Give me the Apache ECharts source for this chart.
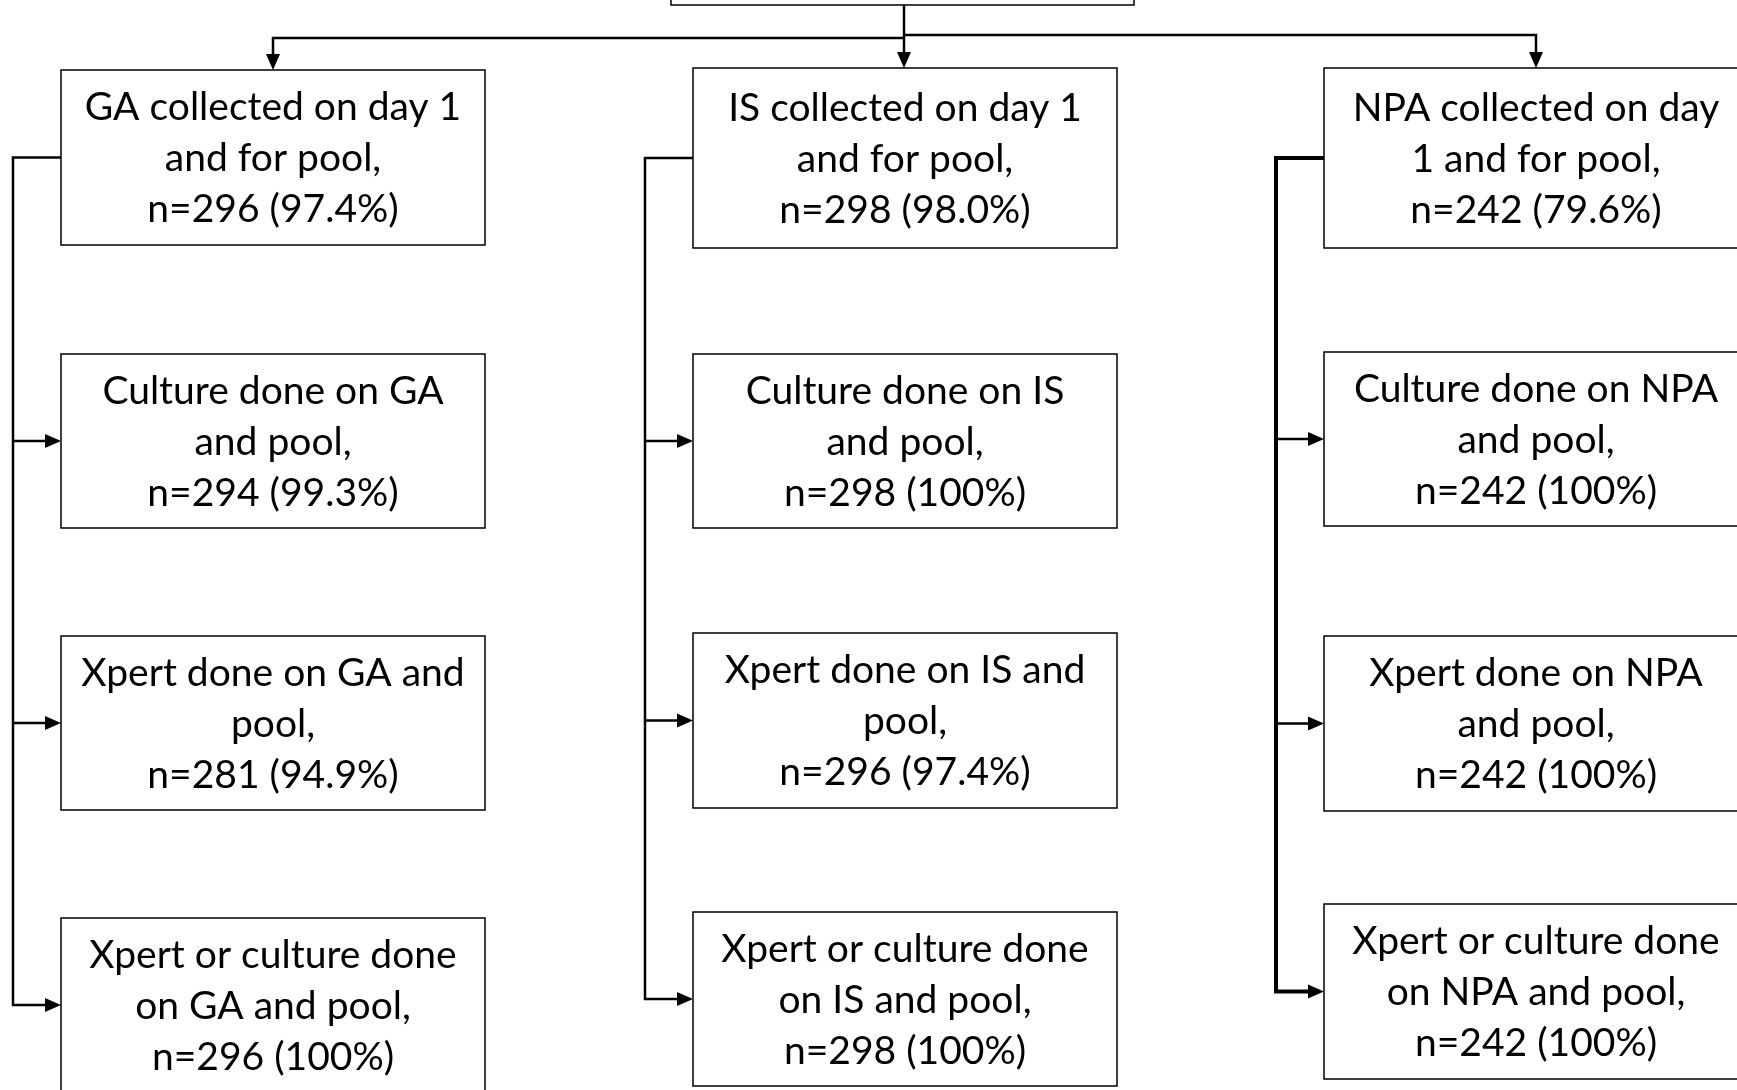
<!DOCTYPE html>
<html><head><meta charset="utf-8">
<script src="https://cdn.jsdelivr.net/npm/echarts@6/dist/echarts.min.js"></script>
<style>html,body{margin:0;padding:0;background:#fff}#c{width:1737px;height:1090px}</style>
</head><body><div id="c"></div>
<script>
// ---- data ----
const specimens = ['GA', 'IS', 'NPA'];
const boxTitles = [
  [['GA collected on day 1', 'and for pool,'], ['Culture done on GA', 'and pool,'], ['Xpert done on GA and', 'pool,'], ['Xpert or culture done', 'on GA and pool,']],
  [['IS collected on day 1', 'and for pool,'], ['Culture done on IS', 'and pool,'], ['Xpert done on IS and', 'pool,'], ['Xpert or culture done', 'on IS and pool,']],
  [['NPA collected on day', '1 and for pool,'], ['Culture done on NPA', 'and pool,'], ['Xpert done on NPA', 'and pool,'], ['Xpert or culture done', 'on NPA and pool,']]
];
const nValues = [
  [296, 294, 281, 296],
  [298, 298, 296, 298],
  [242, 242, 242, 242]
];
const pctLabels = [
  ['97.4%', '99.3%', '94.9%', '100%'],
  ['98.0%', '100%', '97.4%', '100%'],
  ['79.6%', '100%', '100%', '100%']
];

// ---- layout (positions / sizes) ----
const colCenter = [273, 905, 1536];
const boxW = 424;
const rowTop = [[70, 354, 636, 918], [68, 354, 633, 912], [68, 352, 636, 904]];
const rowH = [[175, 174, 174, 174], [180, 174, 175, 174], [180, 174, 175, 175]];
const trunkOffset = 48;
const topBox = { x0: 671, x1: 1134, y0: -120, y1: 5 };
const stemX = 904;
const barY = [38, 35];
const FONT = 'Lato';

const boxData = [];
specimens.forEach((s, c) => {
  for (let r = 0; r < 4; r++) boxData.push([c, r]);
});

function boxRect(c, r) {
  const x0 = colCenter[c] - boxW / 2;
  return { x0: x0, x1: x0 + boxW, y0: rowTop[c][r], y1: rowTop[c][r] + rowH[c][r] };
}

// connectors: list of {pts, arrow, width}
const connectors = [];
connectors.push({ pts: [[stemX, topBox.y1], [stemX, rowTop[1][0]]], arrow: true });
connectors.push({ pts: [[stemX, barY[0]], [colCenter[0], barY[0]], [colCenter[0], rowTop[0][0]]], arrow: true });
connectors.push({ pts: [[stemX, barY[1]], [colCenter[2], barY[1]], [colCenter[2], rowTop[2][0]]], arrow: true });
specimens.forEach((s, c) => {
  const b0 = boxRect(c, 0);
  const tx = b0.x0 - trunkOffset;
  const mid = r => { const b = boxRect(c, r); return (b.y0 + b.y1) / 2; };
  const w = c === 2 ? 4 : 2.5;
  connectors.push({ pts: [[b0.x0, mid(0)], [tx, mid(0)], [tx, mid(3)], [b0.x0, mid(3)]], arrow: true, width: w });
  connectors.push({ pts: [[tx, mid(1)], [b0.x0, mid(1)]], arrow: true });
  connectors.push({ pts: [[tx, mid(2)], [b0.x0, mid(2)]], arrow: true });
});

const chart = echarts.init(document.getElementById('c'), null, { renderer: 'canvas' });
chart.setOption({
  backgroundColor: '#ffffff',
  animation: false,
  grid: { left: 0, right: 0, top: 0, bottom: 0 },
  xAxis: { type: 'value', min: 0, max: 1737, show: false },
  yAxis: { type: 'value', min: 0, max: 1090, inverse: true, show: false },
  series: [
    {
      type: 'custom',
      coordinateSystem: 'cartesian2d',
      clip: false,
      data: connectors.map((d, i) => [i]),
      renderItem: function (params, api) {
        const con = connectors[params.dataIndex];
        const pts = con.pts.map(p => api.coord(p));
        const children = [];
        const n = pts.length;
        const a = pts[n - 2], b = pts[n - 1];
        const dx = b[0] - a[0], dy = b[1] - a[1];
        const len = Math.sqrt(dx * dx + dy * dy);
        const ux = dx / len, uy = dy / len;
        const L = 16, HW = 7;
        const linePts = pts.slice();
        if (con.arrow) linePts[n - 1] = [b[0] - ux * (L - 1), b[1] - uy * (L - 1)];
        children.push({
          type: 'polyline',
          shape: { points: linePts },
          style: { stroke: '#000', lineWidth: con.width || 2.5, fill: null }
        });
        if (con.arrow) {
          const bx = b[0] - ux * L, by = b[1] - uy * L;
          children.push({
            type: 'polygon',
            shape: { points: [[b[0], b[1]], [bx - uy * HW, by + ux * HW], [bx + uy * HW, by - ux * HW]] },
            style: { fill: '#000', stroke: null }
          });
        }
        return { type: 'group', children: children };
      },
      z: 2
    },
    {
      type: 'custom',
      coordinateSystem: 'cartesian2d',
      clip: false,
      data: [[0]],
      renderItem: function (params, api) {
        const p0 = api.coord([topBox.x0, topBox.y0]);
        const p1 = api.coord([topBox.x1, topBox.y1]);
        return {
          type: 'rect',
          shape: { x: p0[0], y: p0[1], width: p1[0] - p0[0], height: p1[1] - p0[1] },
          style: { fill: '#fff', stroke: '#000', lineWidth: 1.5 }
        };
      },
      z: 3
    },
    {
      type: 'custom',
      coordinateSystem: 'cartesian2d',
      clip: false,
      data: boxData,
      renderItem: function (params, api) {
        const c = api.value(0), r = api.value(1);
        const b = boxRect(c, r);
        const p0 = api.coord([b.x0, b.y0]);
        const p1 = api.coord([b.x1, b.y1]);
        const lines = boxTitles[c][r].concat(['n=' + nValues[c][r] + ' (' + pctLabels[c][r] + ')']);
        return {
          type: 'group',
          children: [
            {
              type: 'rect',
              shape: { x: p0[0], y: p0[1], width: p1[0] - p0[0], height: p1[1] - p0[1] },
              style: { fill: '#fff', stroke: '#000', lineWidth: 1.5 }
            },
            {
              type: 'text',
              style: {
                text: lines.join('\n'),
                x: (p0[0] + p1[0]) / 2,
                y: (p0[1] + p1[1]) / 2 + 1,
                align: 'center',
                verticalAlign: 'middle',
                fontFamily: FONT,
                fontSize: 39,
                lineHeight: 51,
                fill: '#000'
              }
            }
          ]
        };
      },
      z: 3
    }
  ]
});
</script>
</body></html>
